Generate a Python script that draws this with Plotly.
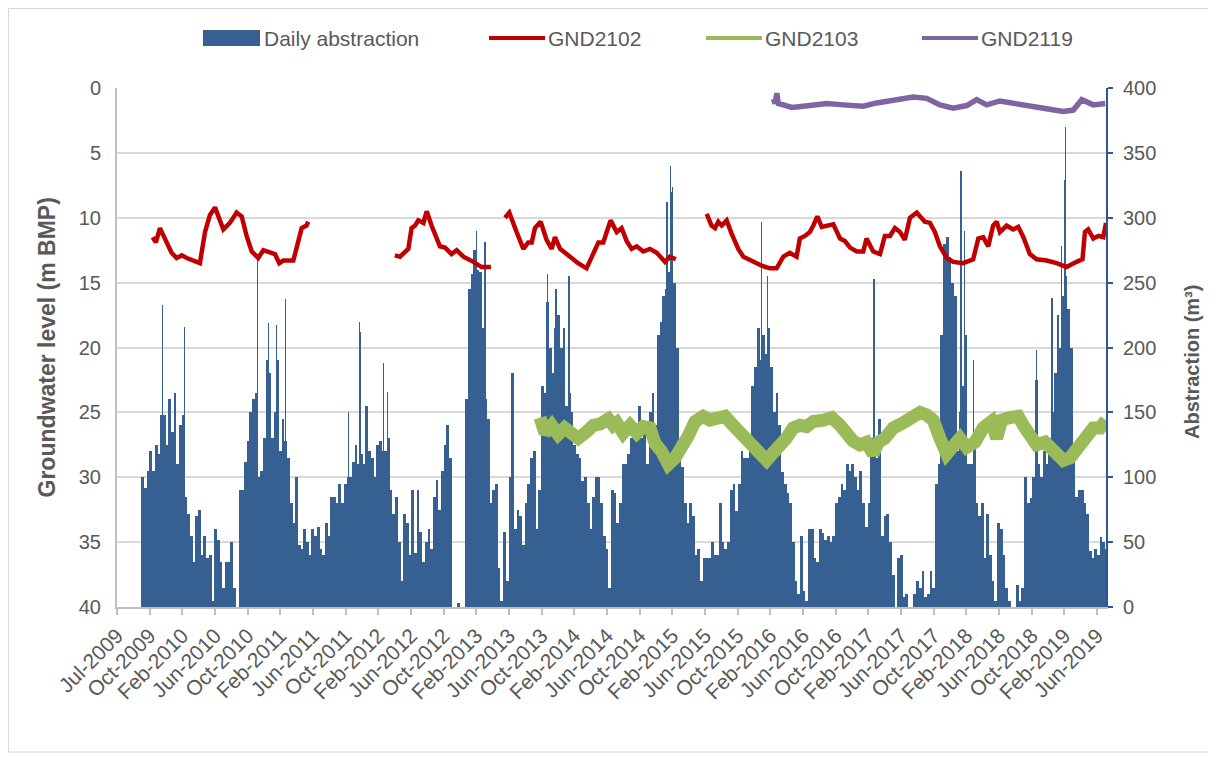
import pandas as pd
import plotly.graph_objects as go

# ---------------- data ----------------
# abstraction, m3 – consecutive 10-day bins starting at bin_start
bin_start = "2009-09-29"
abstraction_10day = [
    100, 92, 105, 120, 105, 125, 118, 148, 148, 125,
    160, 135, 165, 110, 140, 148, 85, 72, 55, 35,
    70, 75, 40, 55, 38, 40, 5, 60, 52, 35,
    15, 35, 35, 50, 15, 0, 90, 90, 112, 128,
    150, 160, 165, 100, 105, 130, 190, 180, 130, 150,
    190, 120, 145, 128, 115, 80, 65, 100, 48, 45,
    60, 50, 40, 60, 55, 62, 45, 40, 65, 55,
    85, 85, 80, 95, 80, 95, 100, 100, 112, 125,
    110, 118, 110, 155, 120, 115, 100, 125, 128, 120,
    120, 130, 90, 72, 85, 50, 20, 72, 65, 40,
    90, 42, 90, 58, 35, 50, 60, 45, 85, 98,
    75, 105, 125, 140, 115, 0, 0, 3, 0, 0,
    160, 245, 257, 275, 260, 258, 215, 160, 145, 80,
    90, 95, 30, 5, 58, 20, 100, 180, 60, 75,
    70, 48, 80, 95, 115, 120, 60, 90, 170, 165,
    235, 200, 180, 215, 225, 200, 215, 155, 165, 150,
    125, 118, 115, 97, 100, 80, 60, 85, 100, 100,
    80, 55, 45, 15, 90, 88, 65, 80, 110, 110,
    118, 130, 130, 140, 155, 130, 140, 110, 150, 165,
    140, 210, 220, 240, 245, 258, 320, 250, 200, 125,
    108, 80, 65, 80, 70, 40, 45, 20, 38, 38,
    38, 50, 40, 40, 80, 50, 45, 50, 90, 95,
    74, 95, 120, 115, 115, 120, 170, 185, 215, 190,
    210, 195, 215, 185, 150, 165, 140, 104, 95, 88,
    80, 50, 20, 10, 55, 12, 5, 60, 60, 38,
    35, 60, 57, 52, 55, 50, 55, 80, 85, 95,
    90, 110, 105, 110, 100, 90, 105, 80, 62, 80,
    130, 120, 115, 145, 55, 70, 72, 50, 25, 0,
    38, 40, 8, 10, 0, 0, 10, 20, 15, 28,
    8, 10, 28, 15, 95, 110, 210, 280, 285, 270,
    250, 240, 120, 150, 170, 210, 110, 110, 130, 80,
    70, 80, 38, 72, 40, 20, 5, 65, 60, 40,
    15, 5, 0, 0, 17, 5, 15, 100, 80, 84,
    100, 175, 110, 100, 120, 110, 130, 150, 180, 225,
    200, 240, 255, 230, 200, 125, 85, 90, 90, 80,
    72, 43, 38, 45, 40, 54, 50, 45,
]

# single-day peaks of abstraction, m3
peak_dates = [
    "2009-12-17", "2010-03-08", "2010-12-04", "2011-01-14", "2011-02-13",
    "2011-03-17", "2011-11-05", "2011-12-17", "2011-12-20", "2012-03-15",
    "2012-03-29", "2013-02-22", "2013-03-25", "2013-11-12", "2013-12-13",
    "2014-01-30", "2015-01-28", "2015-02-09", "2015-02-17", "2016-01-12",
    "2016-02-05", "2017-03-05", "2018-01-21", "2018-02-03", "2018-03-09",
    "2018-10-27", "2018-12-24", "2019-01-27", "2019-02-07", "2019-02-12",
]
peak_values = [
    233, 216, 270, 219, 217,
    237, 150, 220, 212, 188,
    166, 290, 281, 257, 245,
    255, 312, 340, 324, 297,
    255, 253, 336, 290, 190,
    198, 238, 278, 329, 370,
]

# groundwater level, m below measuring point (None = no record)
gnd2102_dates = [
    "2009-11-10", "2009-11-22", "2009-12-07", "2010-01-01", "2010-01-19", "2010-02-07",
    "2010-02-26", "2010-03-16", "2010-05-04", "2010-05-23", "2010-06-10", "2010-06-29",
    "2010-07-30", "2010-08-23", "2010-09-17", "2010-10-06", "2010-10-24", "2010-11-12",
    "2010-12-06", "2010-12-25", "2011-01-19", "2011-02-06", "2011-02-22", "2011-03-09",
    "2011-04-15", "2011-05-04", "2011-05-16", "2011-06-03", "2011-06-09",
    "2011-12-01",
    "2012-04-25", "2012-05-14", "2012-06-14", "2012-06-26", "2012-07-09", "2012-07-21",
    "2012-08-09", "2012-08-21", "2012-09-08", "2012-09-21", "2012-10-09", "2012-10-28",
    "2012-11-21", "2012-12-10", "2013-01-04", "2013-02-10", "2013-03-12", "2013-04-16",
    "2013-05-10",
    "2013-06-07", "2013-06-23", "2013-07-20", "2013-08-14", "2013-09-01", "2013-09-14",
    "2013-09-26", "2013-10-17", "2013-11-08", "2013-11-27", "2013-12-09", "2013-12-28",
    "2014-02-03", "2014-03-05", "2014-04-05", "2014-04-30", "2014-05-19", "2014-06-06",
    "2014-06-18", "2014-07-03", "2014-07-26", "2014-08-13", "2014-09-01", "2014-09-19",
    "2014-10-08", "2014-11-01", "2014-11-26", "2014-12-21", "2015-01-21", "2015-02-08",
    "2015-03-02",
    "2015-05-01",
    "2015-06-24", "2015-07-12", "2015-07-25", "2015-08-06", "2015-08-19", "2015-09-06",
    "2015-09-24", "2015-10-19", "2015-11-07", "2015-12-14", "2016-01-14", "2016-02-13",
    "2016-03-09", "2016-04-03", "2016-04-27", "2016-05-22", "2016-06-03", "2016-06-22",
    "2016-07-10", "2016-07-23", "2016-08-07", "2016-08-23", "2016-09-17", "2016-10-05",
    "2016-10-30", "2016-11-17", "2016-12-06", "2016-12-31", "2017-01-24", "2017-02-05",
    "2017-03-02", "2017-03-27", "2017-04-14", "2017-05-03", "2017-05-21", "2017-06-09",
    "2017-06-27", "2017-07-16", "2017-08-10", "2017-09-09", "2017-09-28", "2017-10-16",
    "2017-11-04", "2017-11-29", "2017-12-23", "2018-01-29", "2018-03-07", "2018-03-26",
    "2018-04-13", "2018-05-02", "2018-05-20", "2018-06-02", "2018-06-14", "2018-07-09",
    "2018-08-02", "2018-08-21", "2018-09-09", "2018-10-03", "2018-10-28", "2018-12-04",
    "2019-01-10", "2019-02-16", "2019-03-25", "2019-04-16", "2019-04-25", "2019-05-07",
    "2019-05-26", "2019-06-14", "2019-07-02", "2019-07-12",
]
gnd2102_level = [
    11.5, 11.9, 10.8, 11.9, 12.7, 13.1,
    12.9, 13.1, 13.5, 11.1, 9.8, 9.2,
    10.9, 10.4, 9.6, 9.9, 11.4, 12.6,
    13.1, 12.5, 12.7, 12.8, 13.5, 13.3,
    13.3, 11.9, 10.8, 10.6, 10.3,
    None,
    12.9, 13.0, 12.4, 10.8, 10.6, 10.2,
    10.4, 9.5, 10.6, 11.2, 12.2, 12.3,
    12.8, 12.5, 13.0, 13.4, 13.8, 13.8,
    None,
    10.0, 9.6, 11.1, 12.4, 11.9, 11.9,
    10.8, 10.3, 11.7, 12.4, 11.5, 12.4,
    13.0, 13.5, 13.9, 12.7, 11.9, 11.9,
    11.1, 10.2, 11.1, 10.8, 11.8, 12.4,
    12.2, 12.6, 12.4, 12.7, 13.4, 13.0,
    13.2,
    None,
    9.7, 10.6, 10.8, 10.3, 10.6, 10.2,
    11.2, 12.4, 13.0, 13.4, 13.7, 13.9,
    13.9, 13.0, 12.7, 13.0, 11.6, 11.4,
    11.1, 10.6, 9.9, 10.7, 10.6, 10.5,
    11.6, 11.8, 12.3, 12.6, 12.6, 11.6,
    12.6, 12.8, 11.4, 11.4, 10.8, 11.1,
    11.7, 10.0, 9.6, 10.3, 10.4, 11.1,
    12.2, 13.1, 13.4, 13.5, 13.2, 11.6,
    11.5, 12.2, 10.6, 10.3, 11.1, 10.6,
    10.9, 10.7, 11.5, 12.8, 13.2, 13.3,
    13.5, 13.8, 13.4, 13.2, 11.1, 10.9,
    11.6, 11.4, 11.5, 10.4,
]

gnd2103_dates = [
    "2013-10-15", "2013-11-02", "2013-11-27", "2013-12-21", "2014-01-14", "2014-02-08",
    "2014-03-05", "2014-04-05", "2014-04-30", "2014-05-25", "2014-06-25", "2014-07-13",
    "2014-07-26", "2014-08-19", "2014-09-13", "2014-10-08", "2014-11-01", "2014-11-26",
    "2014-12-15", "2015-01-08", "2015-02-02", "2015-02-27", "2015-03-23", "2015-04-17",
    "2015-05-12", "2015-06-11", "2015-07-06", "2015-07-31", "2015-08-31", "2015-09-30",
    "2015-10-25", "2015-11-19", "2015-12-14", "2016-01-07", "2016-02-01", "2016-02-26",
    "2016-03-21", "2016-04-14", "2016-05-09", "2016-06-03", "2016-06-28", "2016-07-23",
    "2016-08-29", "2016-09-29", "2016-10-30", "2016-11-23", "2016-12-17", "2017-01-11",
    "2017-02-05", "2017-03-02", "2017-03-21", "2017-04-14", "2017-05-15", "2017-06-21",
    "2017-07-28", "2017-08-22", "2017-09-16", "2017-10-10", "2017-11-04", "2017-11-29",
    "2017-12-23", "2018-01-17", "2018-02-11", "2018-03-14", "2018-04-13", "2018-05-14",
    "2018-06-02", "2018-06-20", "2018-07-21", "2018-08-21", "2018-09-09", "2018-10-03",
    "2018-10-28", "2018-11-28", "2018-12-29", "2019-02-04", "2019-03-01", "2019-03-31",
    "2019-05-01", "2019-05-26", "2019-06-20", "2019-07-12",
]
gnd2103_level = [
    25.4, 26.6, 26.0, 26.7, 26.2, 26.7,
    27.0, 26.5, 26.0, 25.9, 25.5, 26.0,
    25.8, 26.6, 26.0, 26.6, 26.1, 26.2,
    27.4, 28.0, 29.0, 28.5, 27.8, 26.8,
    25.7, 25.3, 25.6, 25.4, 25.3, 26.0,
    26.5, 27.0, 27.6, 28.3, 28.7, 28.1,
    27.6, 27.0, 26.2, 26.0, 26.1, 25.7,
    25.6, 25.4, 26.0, 26.7, 27.2, 27.5,
    27.3, 28.2, 27.3, 27.0, 26.2, 25.8,
    25.3, 25.0, 25.2, 25.6, 27.0, 28.2,
    27.6, 27.0, 27.7, 27.3, 26.2, 25.7,
    27.0, 25.6, 25.4, 25.3, 26.0, 26.8,
    27.5, 27.3, 28.0, 28.7, 28.5, 27.6,
    26.8, 26.2, 26.2, 25.6,
]

gnd2119_dates = [
    "2016-02-20", "2016-03-05", "2016-03-10", "2016-03-15", "2016-04-03", "2016-05-04",
    "2016-07-11", "2016-09-11", "2016-11-11", "2017-01-24", "2017-03-15", "2017-05-15",
    "2017-07-28", "2017-09-16", "2017-11-04", "2017-12-23", "2018-02-11", "2018-03-20",
    "2018-04-26", "2018-06-14", "2018-08-02", "2018-09-21", "2018-12-04", "2019-02-04",
    "2019-03-13", "2019-04-13", "2019-05-26", "2019-07-09",
]
gnd2119_level = [
    1.1, 1.0, 0.4, 1.2, 1.3, 1.5,
    1.35, 1.2, 1.3, 1.4, 1.15, 0.95,
    0.7, 0.8, 1.3, 1.55, 1.35, 0.9,
    1.3, 1.0, 1.2, 1.4, 1.6, 1.8,
    1.7, 0.9, 1.3, 1.2,
]

tick_labels = [
    "Jul-2009", "Oct-2009", "Feb-2010", "Jun-2010", "Oct-2010", "Feb-2011",
    "Jun-2011", "Oct-2011", "Feb-2012", "Jun-2012", "Oct-2012", "Feb-2013",
    "Jun-2013", "Oct-2013", "Feb-2014", "Jun-2014", "Oct-2014", "Feb-2015",
    "Jun-2015", "Oct-2015", "Feb-2016", "Jun-2016", "Oct-2016", "Feb-2017",
    "Jun-2017", "Oct-2017", "Feb-2018", "Jun-2018", "Oct-2018", "Feb-2019",
    "Jun-2019",
]
level_ticks = [0, 5, 10, 15, 20, 25, 30, 35, 40]
abstraction_ticks = [0, 50, 100, 150, 200, 250, 300, 350, 400]

# ---------------- styling ----------------
BLUE = "#376092"
RED = "#C00000"
GREEN = "#9BBB59"
PURPLE = "#8064A2"
GREY_TXT = "#595959"
FONT = "Liberation Sans, Arial, sans-serif"
DAY = 86400000

# page body has an 8 px margin: work in page pixels, convert to figure
OFF = 8
FIG_W, FIG_H = 1216 - OFF, 758 - OFF
L, R, T, B = 117, 1106, 88, 607   # plot area in page pixels
W = R - L
H = B - T

bin_dates = pd.date_range(bin_start, periods=len(abstraction_10day), freq="10D")
axis_start = pd.Timestamp("2009-07-01")
tick_dates = [axis_start + pd.Timedelta(days=121 * i) for i in range(len(tick_labels))]

fig = go.Figure()
fig.add_trace(go.Bar(
    x=bin_dates, y=abstraction_10day, width=10 * DAY, offset=0,
    marker=dict(color=BLUE, line=dict(width=0)), name="Daily abstraction",
    showlegend=False, yaxis="y",
))
fig.add_trace(go.Bar(
    x=pd.to_datetime(peak_dates), y=peak_values, width=DAY,
    marker=dict(color=BLUE, line=dict(width=0)), name="Daily abstraction",
    showlegend=False, yaxis="y",
))
fig.add_trace(go.Scatter(
    x=gnd2102_dates, y=gnd2102_level, mode="lines", name="GND2102",
    line=dict(color=RED, width=4.5), yaxis="y2", showlegend=False,
))
fig.add_trace(go.Scatter(
    x=gnd2103_dates, y=gnd2103_level, mode="lines", name="GND2103",
    line=dict(color=GREEN, width=13), yaxis="y2", showlegend=False,
))
fig.add_trace(go.Scatter(
    x=gnd2119_dates, y=gnd2119_level, mode="lines", name="GND2119",
    line=dict(color=PURPLE, width=5.5), yaxis="y2", showlegend=False,
))


def px(xp):
    return (xp - L) / W


def py(yp):
    return (B - yp) / H


shapes = []
annotations = []
# figure frame
shapes.append(dict(type="rect", xref="paper", yref="paper",
                   x0=px(OFF + 0.5), x1=px(1210), y0=py(752), y1=py(OFF + 0.5),
                   line=dict(color="#D9D9D9", width=1), fillcolor="rgba(0,0,0,0)",
                   layer="below"))
# manual legend
shapes.append(dict(type="rect", xref="paper", yref="paper",
                   x0=px(203), x1=px(260), y0=py(46), y1=py(30),
                   line=dict(width=0), fillcolor=BLUE))
for x0, col in [(489, RED), (706, GREEN), (922, PURPLE)]:
    shapes.append(dict(type="line", xref="paper", yref="paper",
                       x0=px(x0), x1=px(x0 + 56), y0=py(38), y1=py(38),
                       line=dict(color=col, width=4)))
for x0, txt in [(262, "Daily abstraction"), (546, "GND2102"), (763, "GND2103"), (979, "GND2119")]:
    annotations.append(dict(xref="paper", yref="paper", x=px(x0), y=py(38),
                            text=txt, showarrow=False, xanchor="left", yanchor="middle",
                            font=dict(family=FONT, size=21, color=GREY_TXT)))
# axis titles
annotations.append(dict(xref="paper", yref="paper", x=px(46), y=0.5,
                        text="<b>Groundwater level (m BMP)</b>", textangle=-90,
                        showarrow=False, xanchor="center", yanchor="middle",
                        font=dict(family=FONT, size=23, color=GREY_TXT)))
annotations.append(dict(xref="paper", yref="paper", x=px(1192), y=py(362),
                        text="<b>Abstraction (m³)</b>", textangle=-90,
                        showarrow=False, xanchor="center", yanchor="middle",
                        font=dict(family=FONT, size=20, color=GREY_TXT)))

fig.update_layout(
    width=FIG_W, height=FIG_H,
    margin=dict(l=L - OFF, r=FIG_W - (R - OFF), t=T - OFF, b=FIG_H - (B - OFF)),
    paper_bgcolor="white", plot_bgcolor="white",
    barmode="overlay", bargap=0, showlegend=False,
    font=dict(family=FONT, color=GREY_TXT),
    shapes=shapes, annotations=annotations,
    xaxis=dict(
        type="date", range=["2009-07-01", "2019-07-12"],
        tickmode="array", tickvals=tick_dates, ticktext=tick_labels,
        tickangle=-45, ticks="outside", ticklen=6, tickwidth=1.5, tickcolor="#BFBFBF",
        showline=True, linecolor="#BFBFBF", linewidth=2, showgrid=False, zeroline=False,
        tickfont=dict(family=FONT, size=21, color=GREY_TXT),
    ),
    yaxis=dict(
        range=[0, 400], tickmode="array", tickvals=abstraction_ticks, side="right",
        showgrid=True, gridcolor="#D9D9D9", gridwidth=1.5,
        showline=True, linecolor="#2F5597", linewidth=2,
        ticks="outside", ticklen=5, tickcolor="#2F5597", tickwidth=1.5,
        zeroline=False, ticklabelstandoff=6,
        tickfont=dict(family=FONT, size=20, color=GREY_TXT),
    ),
    yaxis2=dict(
        range=[40, 0], tickmode="array", tickvals=level_ticks, side="left",
        overlaying="y", anchor="x", showgrid=False,
        showline=True, linecolor="#BFBFBF", linewidth=2, ticks="",
        zeroline=False, ticklabelstandoff=10,
        tickfont=dict(family=FONT, size=20, color=GREY_TXT),
    ),
)

fig.write_html("out.html")
